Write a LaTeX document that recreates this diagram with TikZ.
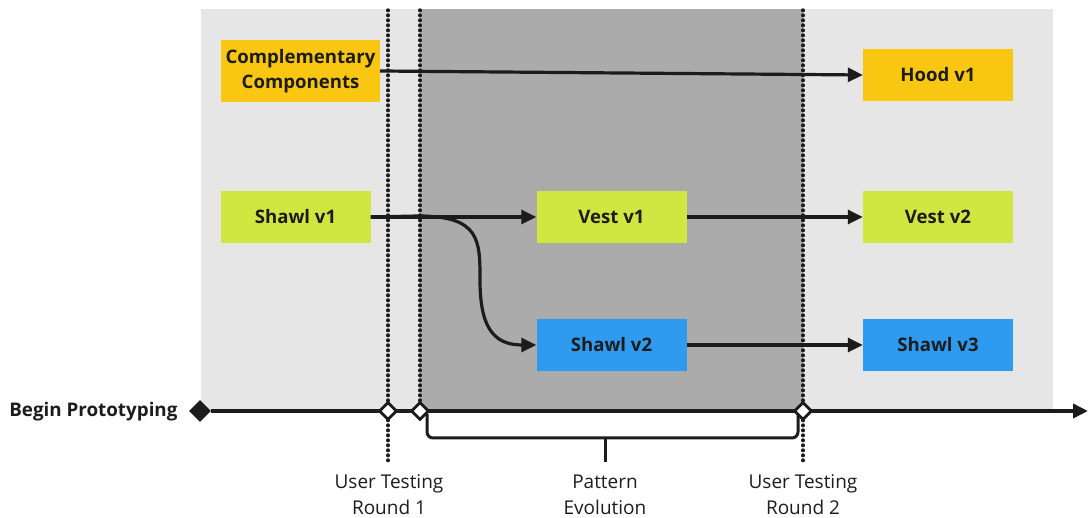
\documentclass[tikz,border=0pt]{standalone}
\usepackage{fontspec}
\setmainfont{Open Sans}
\usetikzlibrary{arrows.meta,shapes.geometric}
\definecolor{lgray}{HTML}{E6E6E6}
\definecolor{dgray}{HTML}{ABABAB}
\definecolor{orng}{HTML}{F9C712}
\definecolor{lime}{HTML}{D1E741}
\definecolor{blu}{HTML}{2E9BF0}
\definecolor{ink}{HTML}{1C1C1C}
\tikzset{
  box/.style={minimum width=150pt, minimum height=52pt, inner sep=0pt, font=\bfseries\fontsize{18.6}{25}\selectfont, text=ink, align=center},
  conn/.style={draw=ink, line width=3.2pt, -{Triangle[length=15pt,width=14pt]}},
  dots/.style={draw=ink, line width=3.4pt, dash pattern=on 0.6pt off 4.4pt, line cap=round},
  odia/.style={diamond, draw=ink, fill=white, line width=2.8pt, minimum width=18pt, minimum height=18pt, inner sep=0pt},
  fdia/.style={diamond, fill=ink, minimum width=22pt, minimum height=22pt, inner sep=0pt},
  lbl/.style={font=\fontsize{19}{26}\selectfont, text=ink, align=center}
}
\begin{document}
\begin{tikzpicture}[x=1pt,y=-1pt]
\useasboundingbox (0,0) rectangle (1088,518);
% backgrounds
\fill[lgray] (201,9) rectangle (1053,410);
\fill[dgray] (420,9) rectangle (803,410);
% dotted lines
\draw[dots] (388,10) -- (388,463);
\draw[dots] (420,10) -- (420,410);
\draw[dots] (803,10) -- (803,463);
% boxes
\node[box, fill=orng, minimum width=159pt, minimum height=62pt] (comp) at (300.5,71) {Complementary\\Components};
\node[box, fill=orng] (hood) at (938,75) {Hood v1};
\node[box, fill=lime] (shawl1) at (295.5,217) {Shawl v1};
\node[box, fill=lime] (vest1) at (611.5,217) {Vest v1};
\node[box, fill=lime] (vest2) at (938,217) {Vest v2};
\node[box, fill=blu] (shawl2) at (611.5,345) {Shawl v2};
\node[box, fill=blu] (shawl3) at (938,345) {Shawl v3};
% connectors
\draw[conn] (comp.east) -- (hood.west);
\draw[conn] (shawl1.east) -- (vest1.west);
\draw[conn] (shawl1.east) -- (418,216) .. controls (480,216) and (480,240) .. (480,280)
   .. controls (480,325) and (492,345) .. (shawl2.west);
\draw[conn] (vest1.east) -- (vest2.west);
\draw[conn] (shawl2.east) -- (shawl3.west);
% timeline
\node[fdia] (begin) at (200,411) {};
\coordinate (tend) at (1088,411);
\draw[conn, line width=3.6pt] (begin.east) -- (tend);
\node[odia] (ut1) at (388,411) {};
\node[odia] (pe) at (420,411) {};
\node[odia] (ut2) at (803,411) {};
\node[anchor=east, font=\bfseries\fontsize{18.8}{23}\selectfont, text=ink] (bp) at (181,412) {Begin Prototyping};
% brace
\draw[ink, line width=3pt, rounded corners=6pt] (427,414) |- (798,438) -- (798,414);
\draw[ink, line width=3pt] (605,438) -- (605,462);
% labels
\node[lbl] (l1) at (389,495) {User Testing\\Round 1};
\node[lbl] (l2) at (605,495) {Pattern\\Evolution};
\node[lbl] (l3) at (803,495) {User Testing\\Round 2};
\end{tikzpicture}
\end{document}
